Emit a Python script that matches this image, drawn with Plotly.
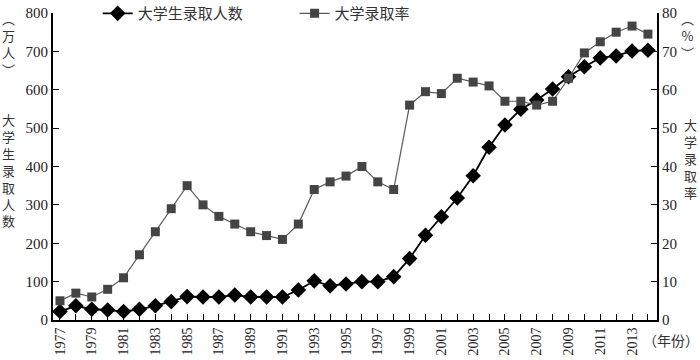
import plotly.graph_objects as go

years = list(range(1977, 2015))
enroll = [22, 37, 28, 26, 22, 28, 37, 48, 61, 60, 60, 65, 60, 60, 60, 78, 102, 89, 94, 100,
          100, 113, 160, 221, 269, 318, 376, 450, 508, 549, 573, 602, 634, 660, 683, 688, 701, 703]
rate = [5, 7, 6, 8, 11, 17, 23, 29, 35, 30, 27, 25, 23, 22, 21, 25, 34, 36, 37.5, 40,
        36, 34, 56, 59.5, 59, 63, 62, 61, 57, 57, 56, 57, 63, 69.6, 72.5, 75, 76.6, 74.5]
tick_labels = [str(y) if (y - 1977) % 2 == 0 else "" for y in years]

serif = "Liberation Serif, Times New Roman, serif"
cjk = "Noto Sans CJK SC"

fig = go.Figure()
fig.add_trace(go.Scatter(
    x=years, y=enroll, name="大学生录取人数", mode="lines+markers",
    line=dict(color="#000000", width=1.8),
    marker=dict(symbol="diamond", size=12, color="#000000"),
    yaxis="y", legend="legend"))
fig.add_trace(go.Scatter(
    x=years, y=rate, name="大学录取率", mode="lines+markers",
    line=dict(color="#5a5a5a", width=1.2),
    marker=dict(symbol="square", size=9, color="#444444"),
    yaxis="y2", legend="legend2"))

leg_common = dict(orientation="h", xanchor="left", yanchor="middle", y=0.998,
                  bgcolor="rgba(0,0,0,0)", font=dict(family=cjk, size=15, color="#333"))

fig.update_layout(
    width=700, height=360,
    margin=dict(l=53, r=43, t=13, b=40, autoexpand=False),
    plot_bgcolor="white", paper_bgcolor="white",
    font=dict(family=serif, size=14, color="#222"),
    showlegend=True,
    legend=dict(x=0.074, **leg_common),
    legend2=dict(x=0.40, **leg_common),
    xaxis=dict(range=[1976.56, 2014.57], tickvals=years, ticktext=tick_labels,
               tickangle=-90, ticks="inside", ticklen=6, tickcolor="#000",
               showline=True, linecolor="#000", linewidth=2, showgrid=False,
               zeroline=False, automargin=False,
               tickfont=dict(family=serif, size=14, color="#222")),
    yaxis=dict(range=[0, 800], dtick=100, ticks="inside", ticklen=6, tickcolor="#000",
               showline=True, linecolor="#000", linewidth=2, showgrid=False,
               zeroline=False, automargin=False,
               tickfont=dict(family=serif, size=15, color="#222")),
    yaxis2=dict(range=[0, 80], dtick=10, overlaying="y", side="right",
                ticks="inside", ticklen=6, tickcolor="#000",
                showline=True, linecolor="#000", linewidth=2, showgrid=False,
                zeroline=False, automargin=False,
                tickfont=dict(family=serif, size=15, color="#222")),
)

ann_font = dict(family=cjk, size=13, color="#333")
fig.add_annotation(text="︵<br>万<br>人<br>︶", xref="paper", yref="paper", x=-0.0745, y=1.02,
                   xanchor="center", yanchor="top", showarrow=False, font=ann_font)
fig.add_annotation(text="大<br>学<br>生<br>录<br>取<br>人<br>数", xref="paper", yref="paper",
                   x=-0.0745, y=0.69, xanchor="center", yanchor="top", showarrow=False, font=ann_font)
fig.add_annotation(text="︵<br>%<br>︶", xref="paper", yref="paper", x=1.051, y=1.02,
                   xanchor="center", yanchor="top", showarrow=False, font=ann_font)
fig.add_annotation(text="大<br>学<br>录<br>取<br>率", xref="paper", yref="paper",
                   x=1.055, y=0.675, xanchor="center", yanchor="top", showarrow=False, font=ann_font)
fig.add_annotation(text="（年份）", xref="paper", yref="paper", x=1.024, y=-0.065,
                   xanchor="center", yanchor="middle", showarrow=False,
                   font=dict(family=cjk, size=14, color="#333"))

# remove the default 8px body margin so the figure fills the window exactly
fig.write_html("out.html", config={"displayModeBar": False},
               post_script="document.body.style.margin='0';")
